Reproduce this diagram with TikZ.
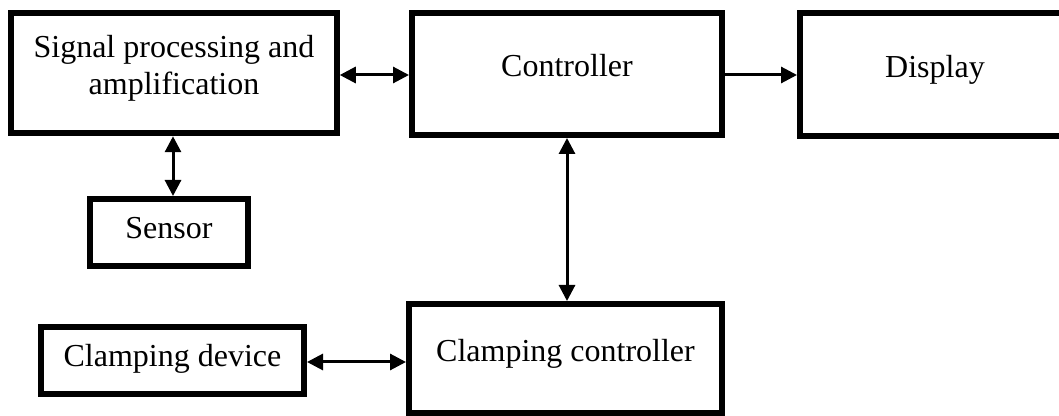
\documentclass[tikz,border=0pt]{standalone}
\usepackage{fontspec}
\setmainfont{Liberation Serif}
\usepackage{tikz}
\usetikzlibrary{arrows.meta}

\begin{document}
\begin{tikzpicture}[x=0.5pt,y=-0.5pt,
	every node/.style={black},
	blk/.style={draw, line width=3pt, inner sep=0pt, align=center,
		font=\fontsize{16}{18.5}\selectfont, text height=12pt, text depth=9pt},
	link/.style={line width=1.5pt, {Triangle[length=8pt,width=8pt]}-{Triangle[length=8pt,width=8pt]}},
	feed/.style={line width=1.5pt, -{Triangle[length=8pt,width=8pt]}}]
	\useasboundingbox (0,0) rectangle (1059,416);

	\node[blk, minimum width=162.75pt, minimum height=60.25pt, text height=30pt, text depth=8pt] (sig) at (174,73) {Signal processing and\\amplification};
	\node[blk, minimum width=155pt, minimum height=61pt] (ctrl) at (567,74) {Controller};
	\node[blk, draw=none, outer sep=0pt, minimum width=135pt, minimum height=61.5pt] (disp) at (935,74.5) {Display};
	\draw[line width=3pt] (disp.north east) -- (disp.north west) -- (disp.south west) -- (disp.south east);
	\node[blk, minimum width=79pt, minimum height=33.5pt, text depth=6pt] (sens) at (169,232.5) {Sensor};
	\node[blk, minimum width=131.5pt, minimum height=33.5pt, text depth=6pt] (cdev) at (172.5,360.5) {Clamping device};
	\node[blk, minimum width=156.5pt, minimum height=54.5pt] (cctrl) at (565.5,358.5) {Clamping controller};

	\draw[link] (sig.east |- 0,75) -- (ctrl.west |- 0,75);
	\draw[feed] (ctrl.east |- 0,75) -- ([xshift=-1.5pt]disp.west |- 0,75);
	\draw[link] (sig.south -| 173,0) -- (sens.north -| 173,0);
	\draw[link] (ctrl.south) -- (cctrl.north -| ctrl.south);
	\draw[link] (cdev.east |- 0,362) -- (cctrl.west |- 0,362);
\end{tikzpicture}
\end{document}
